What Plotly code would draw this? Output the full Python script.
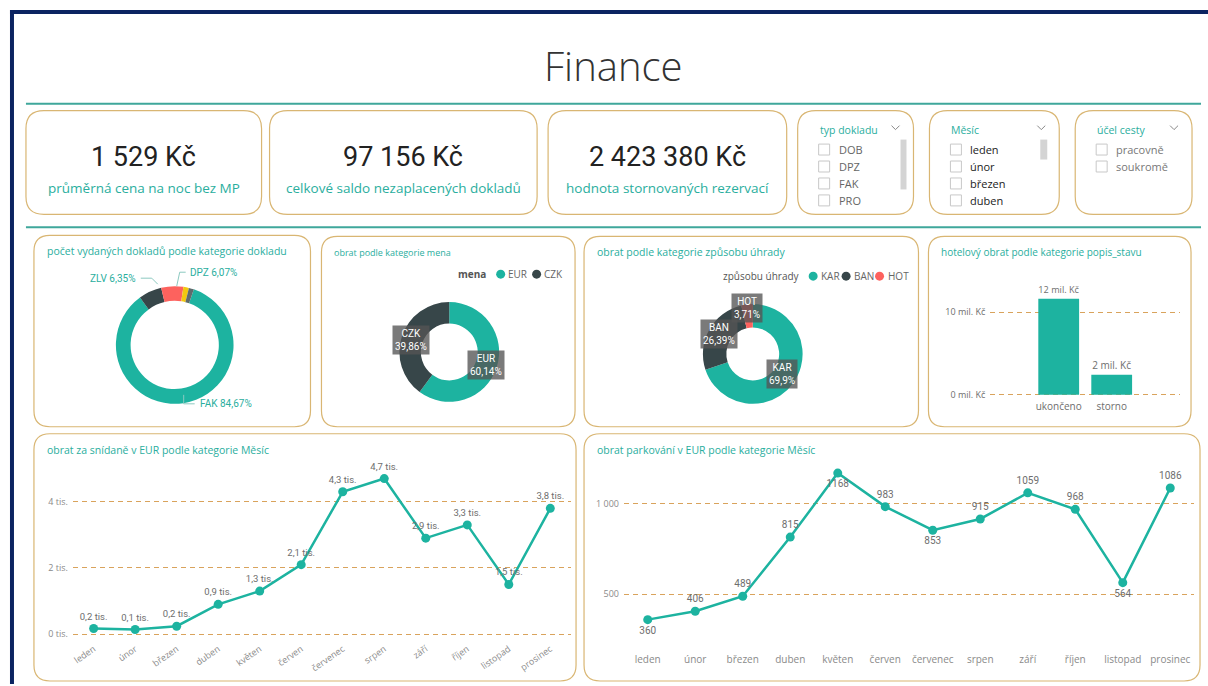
import plotly.graph_objects as go

W, H = 1208, 686

# ---- data ----
kpi_values = ["1 529 Kč", "97 156 Kč", "2 423 380 Kč"]
kpi_labels = ["průměrná cena na noc bez MP", "celkové saldo nezaplacených dokladů",
              "hodnota stornovaných rezervací"]

slicer_titles = ["typ dokladu", "Měsíc", "účel cesty"]
slicer_items = [["DOB", "DPZ", "FAK", "PRO"], ["leden", "únor", "březen", "duben"],
                ["pracovně", "soukromě"]]

doc_types = ["FAK", "ZLV", "DPZ", "DOB", "PRO"]
doc_share = [84.67, 6.35, 6.07, 1.52, 1.39]

currency = ["EUR", "CZK"]
currency_share = [60.14, 39.86]

payment = ["KAR", "BAN", "HOT"]
payment_share = [69.90, 26.39, 3.71]

status = ["ukončeno", "storno"]
status_turnover = [11_600_000, 2_423_380]

months = ["leden", "únor", "březen", "duben", "květen", "červen", "červenec",
          "srpen", "září", "říjen", "listopad", "prosinec"]
breakfast_eur = [170, 140, 240, 900, 1300, 2100, 4300, 4700, 2900, 3300, 1500, 3800]
parking_eur = [360, 406, 489, 815, 1168, 983, 853, 915, 1059, 968, 564, 1086]

# ---- style ----
TEAL = "#1DB3A0"
TEAL_TXT = "#2AAE9E"
DARK = "#374649"
RED = "#FD625E"
YELLOW = "#F2C80F"
GREY2 = "#5F6B6D"
CARD = "#D9B673"
GRID = "#D9A35C"
NAVY = "#0B2461"
LABEL = "#6E6E6E"
FONT = "Open Sans"
NUMF = "Roboto"


def X(x):
    return x / W


def Y(y):
    return 1 - y / H


def rrect(x0, y0, x1, y1, r):
    p = [
        f"M{X(x0 + r)},{Y(y0)}", f"L{X(x1 - r)},{Y(y0)}",
        f"Q{X(x1)},{Y(y0)} {X(x1)},{Y(y0 + r)}", f"L{X(x1)},{Y(y1 - r)}",
        f"Q{X(x1)},{Y(y1)} {X(x1 - r)},{Y(y1)}", f"L{X(x0 + r)},{Y(y1)}",
        f"Q{X(x0)},{Y(y1)} {X(x0)},{Y(y1 - r)}", f"L{X(x0)},{Y(y0 + r)}",
        f"Q{X(x0)},{Y(y0)} {X(x0 + r)},{Y(y0)}", "Z",
    ]
    return " ".join(p)


def pct(v):
    s = f"{v:.2f}".rstrip("0").rstrip(".")
    return s.replace(".", ",") + "%"


shapes = []
annotations = []


def line(x0, y0, x1, y1, color, width=1, dash="solid"):
    shapes.append(dict(type="line", xref="paper", yref="paper", x0=X(x0), y0=Y(y0),
                       x1=X(x1), y1=Y(y1), line=dict(color=color, width=width, dash=dash)))


def text(x, y, s, size=11, color="#333", xanchor="left", family=FONT, **kw):
    annotations.append(dict(x=X(x), y=Y(y), xref="paper", yref="paper", text=s,
                            showarrow=False, xanchor=xanchor, yanchor="middle",
                            font=dict(size=size, color=color, family=family), **kw))


def card(x0, y0, x1, y1, r=16):
    shapes.append(dict(type="path", xref="paper", yref="paper", path=rrect(x0, y0, x1, y1, r),
                       line=dict(color=CARD, width=1.2), fillcolor="rgba(0,0,0,0)"))


def dot(x, y, color, r=4.5):
    shapes.append(dict(type="circle", xref="paper", yref="paper", x0=X(x - r), x1=X(x + r),
                       y0=Y(y + r), y1=Y(y - r), line=dict(width=0), fillcolor=color))


# frame
shapes.append(dict(type="rect", xref="paper", yref="paper", x0=X(8), x1=X(1208), y0=Y(14),
                   y1=Y(10), line=dict(width=0), fillcolor=NAVY))
shapes.append(dict(type="rect", xref="paper", yref="paper", x0=X(8), x1=X(12), y0=Y(686),
                   y1=Y(10), line=dict(width=0), fillcolor=NAVY))

# header
text(613, 66, "Finance", size=40, color="#333333", xanchor="center")
annotations[-1]["font"]["weight"] = 300
line(24, 104, 1201, 104, "#3FA79B", 2)
line(24, 228, 1201, 228, "#3FA79B", 2)

# KPI cards
kpi_boxes = [(24, 111, 260, 215), (268, 111, 536, 215), (547, 111, 786, 215)]
for (x0, y0, x1, y1), v, lab in zip(kpi_boxes, kpi_values, kpi_labels):
    card(x0, y0, x1, y1, 18)
    cx = (x0 + x1) / 2
    text(cx, 157, v, size=27, color="#222222", xanchor="center", family=NUMF)
    text(cx, 189, lab, size=13.5, color=TEAL_TXT, xanchor="center")

# slicers
slicer_boxes = [(797, 111, 913, 215), (929, 111, 1059, 215), (1075, 111, 1192, 215)]
scrollbars = [(900, 140, 906, 190), (1040, 140, 1047, 160), None]
item_colors = ["#666666", "#222222", "#777777"]
for i, (x0, y0, x1, y1) in enumerate(slicer_boxes):
    card(x0, y0, x1, y1, 18)
    tx = x0 + 20
    text(tx, 130, slicer_titles[i], size=10.5, color=TEAL_TXT)
    cx = x1 - 18
    shapes.append(dict(type="path", xref="paper", yref="paper",
                       path=f"M{X(cx - 4)},{Y(126)} L{X(cx)},{Y(130)} L{X(cx + 4)},{Y(126)}",
                       line=dict(color="#888888", width=1)))
    for j, item in enumerate(slicer_items[i]):
        yy = 150 + 17 * j
        shapes.append(dict(type="rect", xref="paper", yref="paper", x0=X(tx + 1), x1=X(tx + 12),
                           y0=Y(yy + 5.5), y1=Y(yy - 5.5),
                           line=dict(color="#C8C8C8", width=1), fillcolor="white"))
        text(tx + 19, yy, item, size=11, color=item_colors[i])
    if scrollbars[i]:
        sx0, sy0, sx1, sy1 = scrollbars[i]
        shapes.append(dict(type="rect", xref="paper", yref="paper", x0=X(sx0), x1=X(sx1),
                           y0=Y(sy1), y1=Y(sy0), line=dict(width=0), fillcolor="#D4D4D4"))

# chart cards and titles
chart_boxes = [(32, 236, 309, 428), (320, 237, 574, 428), (583, 237, 918, 428),
               (928, 237, 1191, 428), (32, 435, 575, 683), (583, 435, 1200, 683)]
chart_titles = ["počet vydaných dokladů podle kategorie dokladu", "obrat podle kategorie mena",
                "obrat podle kategorie způsobu úhrady",
                "hotelový obrat podle kategorie popis_stavu",
                "obrat za snídaně v EUR podle kategorie Měsíc",
                "obrat parkování v EUR podle kategorie Měsíc"]
title_sizes = [10.5, 9, 10.5, 10, 10.5, 10.5]
for (x0, y0, x1, y1), t, s in zip(chart_boxes, chart_titles, title_sizes):
    card(x0, y0, x1, y1, 16)
    text(x0 + 11, y0 + 16, t, size=s, color=TEAL_TXT)

fig = go.Figure()

# donut: document types
fig.add_trace(go.Pie(labels=doc_types, values=doc_share, hole=0.75, sort=False,
                     direction="clockwise", rotation=19, textinfo="none", hoverinfo="skip",
                     marker=dict(colors=[TEAL, DARK, RED, YELLOW, GREY2], line=dict(width=0)),
                     domain=dict(x=[X(114), X(232)], y=[Y(405), Y(287)]), showlegend=False))
text(136, 279, f"{doc_types[1]} {pct(doc_share[1])}", size=10, color=TEAL_TXT, xanchor="right",
     family=NUMF)
text(186, 273, f"{doc_types[2]} {pct(doc_share[2])}", size=10, color=TEAL_TXT, family=NUMF)
text(196, 405, f"{doc_types[0]} {pct(doc_share[0])}", size=10, color=TEAL_TXT, family=NUMF)
line(139, 279, 150, 279, "#8CC9C0")
line(150, 279, 156, 285, "#8CC9C0")
line(184, 273, 178, 273, "#8CC9C0")
line(178, 273, 175, 287, "#8CC9C0")
line(182, 396, 182, 405, "#8CC9C0")
line(182, 405, 193, 405, "#8CC9C0")

# donut: currency
fig.add_trace(go.Pie(labels=currency, values=currency_share, hole=0.57, sort=False,
                     direction="clockwise", rotation=0, textinfo="none", hoverinfo="skip",
                     marker=dict(colors=[TEAL, DARK], line=dict(width=0)),
                     domain=dict(x=[X(398), X(498)], y=[Y(403), Y(303)]), showlegend=False))
box = dict(bgcolor="rgba(85,85,85,0.78)", borderpad=2)
text(410, 341, f"{currency[1]}<br>{pct(currency_share[1])}", size=10, color="white",
     xanchor="center", family=NUMF, **box)
text(485, 366, f"{currency[0]}<br>{pct(currency_share[0])}", size=10, color="white",
     xanchor="center", family=NUMF, **box)
text(487, 275, "<b>mena</b>", size=10, color="#555555", xanchor="right")
dot(499.5, 275, TEAL)
text(505, 275, currency[0], size=10, color="#666666")
dot(535.5, 275, DARK)
text(541, 275, currency[1], size=10, color="#666666")

# donut: payment method
fig.add_trace(go.Pie(labels=payment, values=payment_share, hole=0.53, sort=False,
                     direction="clockwise", rotation=0, textinfo="none", hoverinfo="skip",
                     marker=dict(colors=[TEAL, DARK, RED], line=dict(width=0)),
                     domain=dict(x=[X(702), X(802)], y=[Y(405), Y(305)]), showlegend=False))
text(746, 309, f"{payment[2]}<br>{pct(payment_share[2])}", size=10, color="white",
     xanchor="center", family=NUMF, **box)
text(718, 335, f"{payment[1]}<br>{pct(payment_share[1])}", size=10, color="white",
     xanchor="center", family=NUMF, **box)
text(781, 375, f"{payment[0]}<br>{pct(payment_share[0])}", size=10, color="white",
     xanchor="center", family=NUMF, **box)
text(801, 277, "způsobu úhrady", size=10, color="#555555", xanchor="right")
dot(812.5, 277, TEAL)
text(818, 277, payment[0], size=10, color="#666666")
dot(845.5, 277, DARK)
text(851, 277, payment[1], size=10, color="#666666")
dot(879, 277, RED)
text(885, 277, payment[2], size=10, color="#666666")

# bar: hotel turnover by status (millions of Kč)
status_mil = [v / 1e6 for v in status_turnover]
fig.add_trace(go.Bar(x=status, y=status_mil, marker=dict(color=TEAL, line=dict(width=0)),
                     text=[f"{v:.0f} mil. Kč" for v in status_mil], textposition="outside",
                     textfont=dict(size=10, color=LABEL, family=FONT), cliponaxis=False,
                     hoverinfo="skip", showlegend=False, xaxis="x", yaxis="y"))


def fmt_tis(v):
    return f"{v / 1000:.1f}".replace(".", ",") + " tis."


# line: breakfast
fig.add_trace(go.Scatter(x=months, y=breakfast_eur, mode="lines+markers+text",
                         line=dict(color=TEAL, width=2.5), marker=dict(size=9, color=TEAL),
                         text=[fmt_tis(v) for v in breakfast_eur], textposition="top center",
                         textfont=dict(size=9.5, color=LABEL, family=NUMF), cliponaxis=False,
                         hoverinfo="skip", showlegend=False, xaxis="x2", yaxis="y2"))

# line: parking
park_pos = ["bottom center", "top center", "top center", "top center", "bottom center",
            "top center", "bottom center", "top center", "top center", "top center",
            "bottom center", "top center"]
fig.add_trace(go.Scatter(x=months, y=parking_eur, mode="lines+markers+text",
                         line=dict(color=TEAL, width=2.5), marker=dict(size=9, color=TEAL),
                         text=[str(v) for v in parking_eur], textposition=park_pos,
                         textfont=dict(size=10, color=LABEL, family=NUMF), cliponaxis=False,
                         hoverinfo="skip", showlegend=False, xaxis="x3", yaxis="y3"))

ax_common = dict(showline=False, zeroline=False, ticks="", fixedrange=True)
grid = dict(showgrid=True, gridcolor=GRID, griddash="5px,4px", gridwidth=1.2)

fig.update_layout(
    width=W, height=H, margin=dict(l=0, r=0, t=0, b=0),
    paper_bgcolor="white", plot_bgcolor="rgba(0,0,0,0)",
    font=dict(family=FONT, color="#333"),
    bargap=0.23,
    shapes=shapes, annotations=annotations,
    xaxis=dict(domain=[X(990), X(1180)], range=[-1.29, 2.29], anchor="y", showgrid=False,
               tickfont=dict(size=10, color=LABEL), **ax_common),
    yaxis=dict(domain=[Y(400), Y(280)], range=[-0.48, 13.98], anchor="x",
               tickvals=[0, 10], ticktext=["0 mil. Kč", "10 mil. Kč"], ticklabelstandoff=4,
               tickfont=dict(size=9, color=LABEL), **grid, **ax_common),
    xaxis2=dict(domain=[X(71), X(570)], range=[-0.5, 11.5], anchor="y2", showgrid=False,
                tickangle=-35, ticklabelstandoff=3, tickfont=dict(size=9, color="#8A8A8A"),
                **ax_common),
    yaxis2=dict(domain=[Y(640), Y(470)], range=[-120, 5000], anchor="x2",
                tickvals=[0, 2000, 4000], ticktext=["0 tis.", "2 tis.", "4 tis."],
                ticklabelstandoff=4, tickfont=dict(size=9, color="#8A8A8A"), **grid,
                **ax_common),
    xaxis3=dict(domain=[X(623), X(1194)], range=[-0.5, 11.5], anchor="y3", showgrid=False,
                tickangle=0, ticklabelstandoff=14, tickfont=dict(size=10, color="#8A8A8A"),
                **ax_common),
    yaxis3=dict(domain=[Y(640), Y(465)], range=[258, 1220], anchor="x3",
                tickvals=[500, 1000], ticktext=["500", "1 000"], ticklabelstandoff=4,
                tickfont=dict(size=9, color="#8A8A8A"), **grid, **ax_common),
)

fig.write_html("out.html")
